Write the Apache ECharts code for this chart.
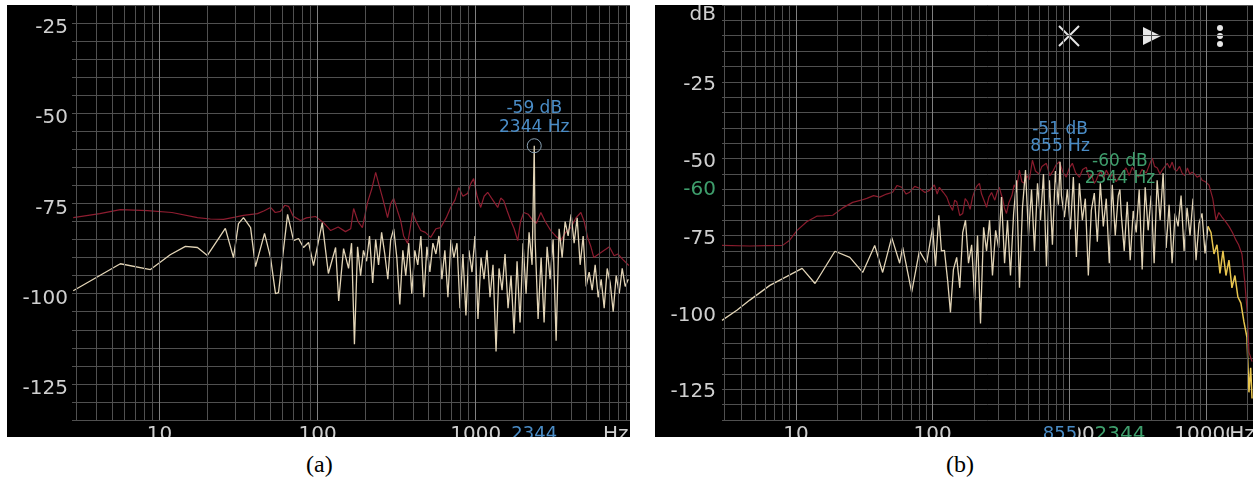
<!DOCTYPE html>
<html>
<head>
<meta charset="utf-8">
<script src="https://cdn.jsdelivr.net/npm/echarts@6/dist/echarts.min.js"></script>
<style>
  body { margin: 0; background: #fff; width: 1253px; height: 486px; position: relative; overflow: hidden; }
  #chart-a { position: absolute; left: 7px; top: 5px; width: 623px; height: 432px; background: #000; }
  #chart-b { position: absolute; left: 655px; top: 5px; width: 598px; height: 432px; background: #000; }
  .cap { position: absolute; top: 451px; font: 24px "Liberation Serif", serif; color: #000; }
</style>
</head>
<body>
<div id="chart-a"></div>
<div id="chart-b"></div>
<div class="cap" style="left:306px">(a)</div>
<div class="cap" style="left:946px">(b)</div>

<script>
// ---- panel (a) ----
const redA = [
  [2.85, -78.9], [4.2, -77.8], [5.66, -76.7], [8.4, -77.0], [12, -77.5], [17.4, -78.9], [21, -79.3],
  [25.4, -79.4], [30, -78.8], [34, -78.3], [41.7, -77.8], [46, -77.0], [50.4, -76.1], [54, -77.5],
  [58.2, -77.2], [62, -75.5], [65.5, -75.8], [70, -78.5], [78, -79.7], [85, -79], [97, -78.6],
  [109, -80.3], [121, -82.5], [135, -81.5], [150, -82.8], [162, -82], [169, -76.4], [180, -80],
  [192, -81.7], [207, -74.7], [220, -71], [233, -66.4], [245, -70], [258, -73.6], [277, -78.9],
  [290, -75], [303, -73.6], [320, -77], [335, -79.7], [350, -84], [371, -86.1], [385, -82],
  [399, -77.5], [420, -80], [449, -82.5], [480, -83], [519, -84.4], [560, -82], [600, -81.7],
  [650, -79], [694, -76.1], [740, -74], [780, -70.6], [830, -73], [889, -72.2], [930, -69.5],
  [970, -68.1], [1020, -73], [1075, -76.1], [1130, -73], [1190, -71.9], [1280, -74], [1377, -76.1],
  [1440, -73.5], [1503, -74.2], [1580, -77], [1664, -79.7], [1750, -82], [1843, -85.3], [1920, -80],
  [2012, -77.5], [2150, -78], [2293, -79.7], [2420, -80.5], [2580, -77.5], [2750, -80], [2978, -82.5],
  [3200, -84], [3450, -85.3], [3700, -83], [3990, -81.7], [4300, -79], [4620, -77.5], [4850, -80],
  [5100, -84.4], [5350, -87], [5580, -90], [6000, -89], [6460, -88], [7000, -87], [7500, -89.5],
  [7920, -89], [8500, -90.5], [9290, -92.2]
];
const whiteA = [
  [2.85, -99.2], [5.66, -91.7], [8.77, -93.3], [11.7, -89.2], [14.6, -86.9], [17.4, -87.2], [20.1, -89.4],
  [26.1, -81.9], [29.4, -90], [31.6, -80.6], [34, -78.9], [37.7, -81.7], [40.5, -92.5], [46.2, -83.3],
  [50.4, -90], [54.2, -100], [56.6, -99.7], [64.6, -78], [70.5, -85.3], [75.8, -84.7], [81.5, -87.2],
  [87.7, -85.8], [94.3, -92.2], [107, -80.3], [117, -94.4], [130, -87.2], [136, -102], [146, -87.5],
  [150, -88], [157, -93], [164, -86], [171, -114], [179, -87], [187, -95], [195, -88], [204, -91],
  [213, -84], [223, -97], [233, -85], [243, -92], [254, -83], [266, -89], [278, -96], [290, -85],
  [303, -82], [317, -90], [331, -103], [346, -88], [361, -95], [377, -86], [394, -100], [412, -88],
  [430, -92], [450, -84], [470, -101], [491, -87], [513, -94], [536, -86], [560, -89], [585, -84],
  [611, -96], [638, -88], [667, -101], [697, -85], [728, -90], [761, -86], [795, -104], [830, -89],
  [867, -106], [906, -88], [947, -94], [989, -84], [1033, -107], [1080, -90], [1128, -96], [1178, -88],
  [1231, -101], [1286, -92], [1344, -116], [1404, -93], [1467, -99], [1532, -89], [1601, -104],
  [1672, -95], [1747, -111], [1825, -91], [1907, -108], [1992, -86], [2081, -100], [2174, -83],
  [2271, -92], [2344, -59], [2373, -85], [2479, -107], [2590, -90], [2706, -108], [2827, -87],
  [2953, -96], [3085, -85], [3223, -113], [3367, -82], [3518, -90], [3675, -80], [3839, -84],
  [4011, -78], [4190, -86], [4378, -79], [4573, -92], [4778, -84], [4991, -98], [5215, -94],
  [5448, -99], [5691, -92], [5946, -101], [6212, -96], [6489, -104], [6780, -93], [7083, -97],
  [7399, -105], [7730, -95], [8076, -100], [8437, -93], [8814, -98], [9208, -96]
];
const peakA = [2344, -59];
const xLabelsA = [10, 100, 1000, 2344];
const vGridA = [3, 4, 5, 6, 7, 8, 9, 10, 20, 30, 40, 50, 60, 70, 80, 90, 100, 200, 300, 400, 500, 600, 700, 800, 900,
  1000, 2000, 3000, 4000, 5000, 6000, 7000, 8000, 9000];

// ---- panel (b) ----
const redB = [
  [2.88, -78.2], [4.6, -78.4], [6, -78.3], [8, -78.2], [9, -76.5], [10.2, -73.3], [12, -70.5], [14.2, -68.7],
  [16, -68.6], [18.6, -68.4], [22, -66], [26, -64.2], [30, -63.5], [33, -62.9], [37, -62], [41, -62.5],
  [46, -61.5], [51, -60.9], [55, -58.7], [59.4, -59.3], [64, -61.5], [68, -60.9], [74, -59], [80, -59.6],
  [88, -61], [95, -60.3], [103, -58.5], [108, -61.5], [112, -59.3], [120, -61], [127, -62.5], [133, -65],
  [140, -66.8], [145, -63.5], [150, -64], [158, -68.5], [166, -67.8], [173, -63], [180, -64], [188, -66.5],
  [196, -62.5], [203, -60.5], [210, -59], [220, -58], [228, -61.5], [235, -62], [242, -64.5], [248, -65.8],
  [258, -62.5], [270, -61], [285, -63.5], [298, -60.5], [308, -59.3], [317, -61.5], [325, -63], [335, -66],
  [347, -67.8], [360, -64.5], [380, -62], [395, -58.5], [410, -60], [431, -53.7], [450, -57.5], [470, -58],
  [490, -55.5], [510, -56.8], [537, -50.5], [565, -54], [600, -55], [630, -52.5], [679, -51.5], [720, -55.5],
  [760, -54], [800, -52], [845, -51], [900, -54.5], [950, -56], [1000, -53], [1052, -51.5], [1110, -54.5],
  [1184, -56], [1250, -53.5], [1331, -52.8], [1400, -56.5], [1450, -55], [1520, -58], [1575, -57],
  [1640, -55], [1700, -54], [1780, -56.5], [1862, -53.7], [1980, -56], [2100, -55], [2200, -57.5],
  [2317, -56], [2450, -54.5], [2600, -53], [2740, -55.5], [2884, -52.8], [3050, -54.5], [3200, -56],
  [3400, -53.5], [3650, -54.7], [3850, -52], [4040, -49.8], [4200, -52.5], [4400, -53], [4600, -55],
  [4775, -53.7], [5000, -52.5], [5200, -51.5], [5420, -53], [5650, -51.1], [5880, -53.5], [6100, -54],
  [6400, -52.5], [6680, -54.7], [7000, -55.5], [7300, -53], [7600, -55], [7900, -54.4], [8250, -55],
  [8600, -56], [9000, -55.5], [9350, -57], [9900, -57.5], [10520, -58.6], [11200, -63], [11830, -70],
  [12400, -67.5], [13090, -69], [13900, -70.5], [14720, -72], [15600, -74], [16560, -76.5], [17300, -78],
  [18300, -81], [19200, -90], [20000, -100], [20600, -113], [21700, -116]
];
const whiteB = [
  [2.88, -102.6], [3.7, -99.3], [4.6, -96], [6.45, -91.2], [8.6, -88.3], [11.1, -85.7], [13.8, -90.6],
  [19.3, -80.1], [24.8, -82.1], [30.8, -87], [37.7, -78.2], [43.1, -87], [50.2, -75.6], [57.4, -84],
  [60.4, -78.8], [70.3, -93.5], [80, -80], [90.4, -84], [100, -72.3],
  [105, -85], [111, -68.4], [116, -80], [122, -79.8], [129, -90], [135, -100], [142, -86], [150, -82.1],
  [158, -92], [166, -74], [174, -70], [183, -84], [193, -78], [203, -96], [213, -75], [224, -103.6],
  [236, -72.3], [248, -80], [261, -70], [274, -88], [289, -73.3], [304, -79], [319, -62.5], [336, -84],
  [353, -70], [371, -88], [391, -68], [411, -57], [432, -92], [454, -66], [478, -53.7], [503, -75],
  [529, -60], [556, -80], [585, -58], [615, -70], [647, -55], [680, -85], [715, -57], [752, -78],
  [791, -54], [832, -65], [855, -51], [875, -62], [920, -69], [968, -60], [1018, -73], [1070, -56],
  [1126, -82], [1184, -58], [1245, -70], [1309, -63], [1377, -88], [1448, -66.8], [1523, -61.2],
  [1602, -77], [1685, -58], [1772, -72], [1863, -63], [1960, -84], [2061, -58.5], [2167, -75],
  [2279, -62], [2344, -60], [2397, -68], [2521, -80], [2651, -64], [2788, -83], [2932, -67],
  [3084, -74], [3243, -60], [3411, -86], [3587, -59.3], [3772, -73.3], [3967, -62], [4172, -84],
  [4388, -57], [4615, -70], [4853, -54.7], [5104, -79], [5368, -65], [5645, -84], [5937, -67.8],
  [6244, -72], [6567, -62], [6906, -80], [7263, -66], [7638, -75], [8033, -63], [8448, -83],
  [8885, -71], [9344, -67.8], [9827, -80.8], [10335, -72]
];
// upper end of the same trace, drawn in yellow in the reference
const whiteBHigh = [
  [10335, -72], [10869, -74], [11430, -81], [12021, -78], [12642, -87.3], [13295, -80], [13982, -88],
  [14705, -83], [15465, -92], [16264, -88], [17105, -95], [17989, -97], [18918, -103], [19896, -108],
  [20600, -126], [21200, -118], [21700, -128]
];
const markersB = [[855, -51], [2344, -60]];
const xMaxB = 22050;
const xLabelsB = [10, 100, 1000, 10000, 855, 2344, xMaxB];
const vGridB = [3, 4, 5, 6, 7, 8, 9, 10, 20, 30, 40, 50, 60, 70, 80, 90, 100, 200, 300, 400, 500, 600, 700, 800, 900,
  1000, 2000, 3000, 4000, 5000, 6000, 7000, 8000, 9000, 10000, 20000];

const decades = [10, 100, 1000, 10000];
const labelColor = '#cfcfcf';
const font = 'DejaVu Sans';
const blue = '#4a8cc6';
const green = '#3e9e6c';
const cream = '#e2d4b6';
const gridColor = '#505050';

const gridSeries = (vals) => ({
  type: 'line',
  data: [],
  silent: true,
  z: 1,
  markLine: {
    silent: true,
    animation: false,
    symbol: ['none', 'none'],
    label: { show: false },
    emphasis: { disabled: true },
    lineStyle: { type: 'solid', width: 1, color: gridColor },
    data: vals.map((v) => ({
      xAxis: v,
      lineStyle: { type: 'solid', width: 1, color: decades.includes(v) ? '#808080' : gridColor },
    })),
  },
});

const yAxisBase = (min, max, lineH, margin) => ({
  type: 'value',
  min: min,
  max: max,
  interval: 5,
  axisLine: { show: false },
  axisTick: { show: false },
  splitLine: { show: true, lineStyle: { color: gridColor, width: 1 } },
  axisLabel: {
    color: labelColor,
    fontSize: 20,
    fontFamily: font,
    margin: margin,
    verticalAlign: 'top',
    lineHeight: lineH,
    formatter: (v) => (v % 25 === 0 && v !== 0 ? String(v) : ''),
  },
});

// ---------- chart a ----------
const chartA = echarts.init(document.getElementById('chart-a'));
chartA.setOption({
  animation: false,
  backgroundColor: '#000',
  grid: { left: 65, right: 0, top: 0, bottom: 17, outerBoundsMode: 'none' },
  xAxis: {
    type: 'log',
    min: 2.8,
    max: 9450,
    axisLine: { show: false },
    axisTick: { show: false },
    splitLine: { show: false },
    name: 'Hz',
    nameLocation: 'end',
    nameGap: -27,
    nameTextStyle: { color: labelColor, fontSize: 20, fontFamily: font, verticalAlign: 'top', padding: [5, 0, 0, 0] },
    axisLabel: {
      customValues: xLabelsA,
      margin: 5,
      color: labelColor,
      fontSize: 20,
      fontFamily: font,
      formatter: (v) => (Math.round(v) === peakA[0] ? '{m|' + peakA[0] + '}' : String(Math.round(v))),
      rich: { m: { color: blue, fontSize: 18, fontFamily: font } },
    },
  },
  yAxis: yAxisBase(-135, -20, 10, 4),
  series: [
    gridSeries(vGridA),
    {
      type: 'line', data: redA, showSymbol: false, z: 3, silent: true,
      lineStyle: { color: '#8e1d30', width: 1.2 },
    },
    {
      type: 'line', data: whiteA, showSymbol: false, z: 4, silent: true,
      lineStyle: { color: cream, width: 1.3 },
      markPoint: {
        silent: true,
        animation: false,
        symbol: 'circle',
        symbolSize: 14,
        itemStyle: { color: 'rgba(0,0,0,0)', borderColor: '#8aa3b6', borderWidth: 1 },
        label: {
          show: true, position: 'top', distance: 1,
          color: blue, fontSize: 17, lineHeight: 19, fontFamily: font,
          formatter: peakA[1] + ' dB\n' + peakA[0] + ' Hz',
        },
        data: [{ coord: peakA }],
      },
    },
  ],
});

// ---------- chart b ----------
const chartB = echarts.init(document.getElementById('chart-b'));
const yB = yAxisBase(-135, 0, 6, 6);
yB.name = 'dB';
yB.nameLocation = 'end';
yB.nameGap = 0;
yB.nameTextStyle = { color: labelColor, fontSize: 20, fontFamily: font, align: 'right', verticalAlign: 'top', padding: [0, 6, 0, 0] };

chartB.setOption({
  animation: false,
  backgroundColor: '#000',
  grid: { left: 67, right: 0, top: 0, bottom: 17, outerBoundsMode: 'none' },
  xAxis: {
    type: 'log',
    min: 2.88,
    max: xMaxB,
    axisLine: { show: false },
    axisTick: { show: false },
    splitLine: { show: false },
    axisLabel: {
      customValues: xLabelsB,
      margin: 5,
      color: labelColor,
      fontSize: 20,
      fontFamily: font,
      formatter: (v) => {
        const r = Math.round(v);
        if (r === markersB[0][0]) return '{b|' + r + '}';
        if (r === markersB[1][0]) return '{g|' + r + '}';
        if (r === xMaxB) return '{hz|Hz}';
        return String(r);
      },
      rich: {
        b: { color: blue, fontSize: 18, fontFamily: font, backgroundColor: '#000', padding: [0, 1, 4, 1] },
        g: { color: green, fontSize: 20, fontFamily: font, backgroundColor: '#000' },
        hz: { color: labelColor, fontSize: 20, fontFamily: font, backgroundColor: '#000', padding: [0, 22, 0, 0] },
      },
    },
  },
  yAxis: yB,
  graphic: [
    // window controls of the analyser app
    { type: 'line', silent: true, shape: { x1: 404, y1: 21, x2: 424, y2: 41 }, style: { stroke: '#e6e6e6', lineWidth: 2 } },
    { type: 'line', silent: true, shape: { x1: 424, y1: 21, x2: 404, y2: 41 }, style: { stroke: '#e6e6e6', lineWidth: 2 } },
    { type: 'polygon', silent: true, shape: { points: [[488, 22], [488, 40], [506, 31]] }, style: { fill: '#e6e6e6' } },
    { type: 'circle', silent: true, shape: { cx: 565, cy: 23, r: 3 }, style: { fill: '#e6e6e6' } },
    { type: 'circle', silent: true, shape: { cx: 565, cy: 31, r: 3 }, style: { fill: '#e6e6e6' } },
    { type: 'circle', silent: true, shape: { cx: 565, cy: 39, r: 3 }, style: { fill: '#e6e6e6' } },
  ],
  series: [
    gridSeries(vGridB),
    {
      type: 'line', data: [], silent: true,
      markLine: {
        silent: true, animation: false, symbol: ['none', 'none'],
        lineStyle: { color: 'rgba(0,0,0,0)', width: 1 },
        label: { show: true, position: 'start', distance: 6, color: green, fontSize: 20, fontFamily: font, padding: [6, 0, 0, 0], formatter: String(markersB[1][1]) },
        data: [{ yAxis: markersB[1][1] }],
      },
    },
    {
      type: 'line', data: redB, showSymbol: false, z: 3, silent: true,
      lineStyle: { color: '#8a1c2d', width: 1.2 },
    },
    {
      type: 'line', data: whiteB, showSymbol: false, z: 4, silent: true,
      lineStyle: { color: cream, width: 1.3 },
      markPoint: {
        silent: true,
        animation: false,
        symbol: 'circle',
        symbolSize: 2,
        itemStyle: { color: 'rgba(0,0,0,0)' },
        label: { show: true, position: 'top', fontSize: 17, lineHeight: 17, fontFamily: font },
        data: [
          { coord: markersB[0], label: { distance: 6, color: blue, formatter: markersB[0][1] + ' dB\n' + markersB[0][0] + ' Hz' } },
          { coord: markersB[1], label: { distance: 1, color: green, formatter: markersB[1][1] + ' dB\n' + markersB[1][0] + ' Hz' } },
        ],
      },
    },
    {
      type: 'line', data: whiteBHigh, showSymbol: false, z: 4, silent: true,
      lineStyle: { color: '#e9c64e', width: 1.5 },
    },
  ],
});

window.addEventListener('resize', function () {
  chartA.resize();
  chartB.resize();
});
</script>
</body>
</html>
